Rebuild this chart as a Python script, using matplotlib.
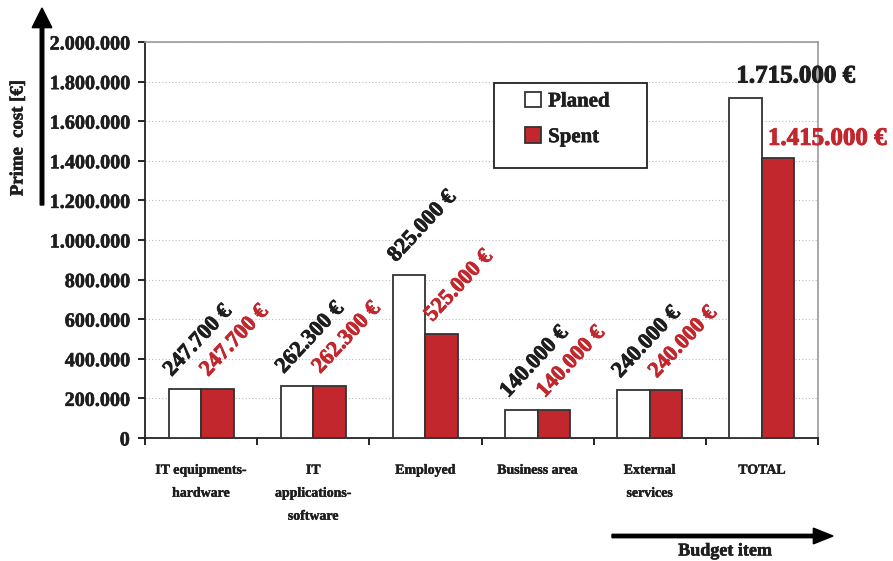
import numpy as np
import matplotlib.pyplot as plt
import matplotlib.patches as mpatches
import matplotlib.patheffects as pe
from matplotlib.ticker import FuncFormatter

categories = ['IT equipments-\nhardware', 'IT\napplications-\nsoftware', 'Employed',
              'Business area', 'External\nservices', 'TOTAL']
planed = [247700, 262300, 825000, 140000, 240000, 1715000]
spent = [247700, 262300, 525000, 140000, 240000, 1415000]

red = '#C1272D'
dark = '#1e1e1e'
serif = ['Liberation Serif', 'DejaVu Serif']

def fmt_eur(v):
    return '{:,.0f}'.format(v).replace(',', '.') + ' €'

def fmt_tick(v, pos):
    if v == 0:
        return '0'
    return '{:,.0f}'.format(v).replace(',', '.')

def heavy(color, lw=0.5):
    return [pe.withStroke(linewidth=lw, foreground=color)]

plt.rcParams['font.family'] = serif
plt.rcParams['font.weight'] = 'bold'

fig = plt.figure(figsize=(8.93, 5.61), dpi=100)
ax = fig.add_axes([0.1624, 0.2193, 0.7536, 0.7058])

x = np.arange(len(categories))
w = 0.29
ax.bar(x - w/2, planed, w, color='white', edgecolor='#333333', linewidth=1.3, label='Planed', zorder=3)
ax.bar(x + w/2, spent, w, color=red, edgecolor='#333333', linewidth=1.3, label='Spent', zorder=3)

ax.set_xlim(-0.5, len(categories) - 0.5)
ax.set_ylim(0, 2000000)
ax.set_yticks(np.arange(0, 2000001, 200000))
ax.yaxis.set_major_formatter(FuncFormatter(fmt_tick))
ax.tick_params(axis='y', labelsize=14.5, length=5, width=1.2, direction='out', pad=6)
for t in ax.get_yticklabels():
    t.set_path_effects(heavy(dark, 0.4))
    t.set_color(dark)
ax.grid(axis='y', linestyle=(0, (1, 2)), color='#bbbbbb', linewidth=0.8, zorder=0)

# category boundaries carry the ticks, labels sit at centres
ax.set_xticks(np.arange(-0.5, len(categories) + 0.5, 1))
ax.set_xticklabels([])
ax.tick_params(axis='x', length=5, width=1.2, direction='out')
for i, c in enumerate(categories):
    ax.text(i, -0.065, c, transform=ax.get_xaxis_transform(), ha='center', va='top',
            fontsize=10, fontweight='bold', linespacing=2.0, color=dark,
            path_effects=heavy(dark, 0.3))

for s in ['left', 'bottom']:
    ax.spines[s].set_linewidth(1.3)
    ax.spines[s].set_color('#222222')
for s in ['top', 'right']:
    ax.spines[s].set_color('#999999')
    ax.spines[s].set_linewidth(1.2)

# value labels
for i in range(len(categories) - 1):
    ax.annotate(fmt_eur(planed[i]), (x[i] - w, planed[i]), xytext=(3, 12),
                textcoords='offset pixels', rotation=47, rotation_mode='anchor',
                ha='left', va='baseline', fontsize=16, fontweight='bold', color=dark,
                path_effects=heavy(dark, 0.6))
    ax.annotate(fmt_eur(spent[i]), (x[i], spent[i]), xytext=(7, 12),
                textcoords='offset pixels', rotation=47, rotation_mode='anchor',
                ha='left', va='baseline', fontsize=16, fontweight='bold', color=red,
                path_effects=heavy(red, 0.6))
i = len(categories) - 1
ax.annotate(fmt_eur(planed[i]), (x[i] - w, planed[i]), xytext=(7, 16),
            textcoords='offset pixels', ha='left', va='baseline',
            fontsize=18, fontweight='bold', color=dark, annotation_clip=False,
            path_effects=heavy(dark, 0.7))
ax.annotate(fmt_eur(spent[i]), (x[i], spent[i]), xytext=(6, 13),
            textcoords='offset pixels', ha='left', va='baseline',
            fontsize=18, fontweight='bold', color=red, annotation_clip=False,
            path_effects=heavy(red, 0.7))

# legend: frame drawn as a rectangle, entries placed inside
ax.add_patch(mpatches.Rectangle((0.519, 0.682), 0.227, 0.214, transform=ax.transAxes,
                                facecolor='white', edgecolor='#222222', linewidth=1.3, zorder=5))
leg = ax.legend(loc='upper left', bbox_to_anchor=(0.565, 0.875), fontsize=15,
                frameon=False, handlelength=0.75, handleheight=0.75, handletextpad=0.35,
                labelspacing=0.75, borderpad=0, borderaxespad=0)
leg.set_zorder(6)
for t in leg.get_texts():
    t.set_fontweight('bold')
    t.set_color(dark)
    t.set_path_effects(heavy(dark, 0.4))

# axis arrows in figure coordinates
fig.patches.append(mpatches.FancyArrow(
    42/893, 1 - 205/561, 0, 197/561, width=0.004, head_width=0.022,
    head_length=0.035, length_includes_head=True, color='black', transform=fig.transFigure))
fig.patches.append(mpatches.FancyArrow(
    612/893, 1 - 536/561, 221/893, 0, width=0.006, head_width=0.028,
    head_length=0.022, length_includes_head=True, color='black', transform=fig.transFigure))

fig.text(18/893, 1 - 138/561, 'Prime  cost [€]', rotation=90, ha='center', va='center',
         fontsize=13.5, fontweight='bold', color=dark, path_effects=heavy(dark, 0.4))
fig.text(725/893, 1 - 551/561, 'Budget item', ha='center', va='center',
         fontsize=13, fontweight='bold', color=dark, path_effects=heavy(dark, 0.4))

fig.savefig('out.png', dpi=100)
